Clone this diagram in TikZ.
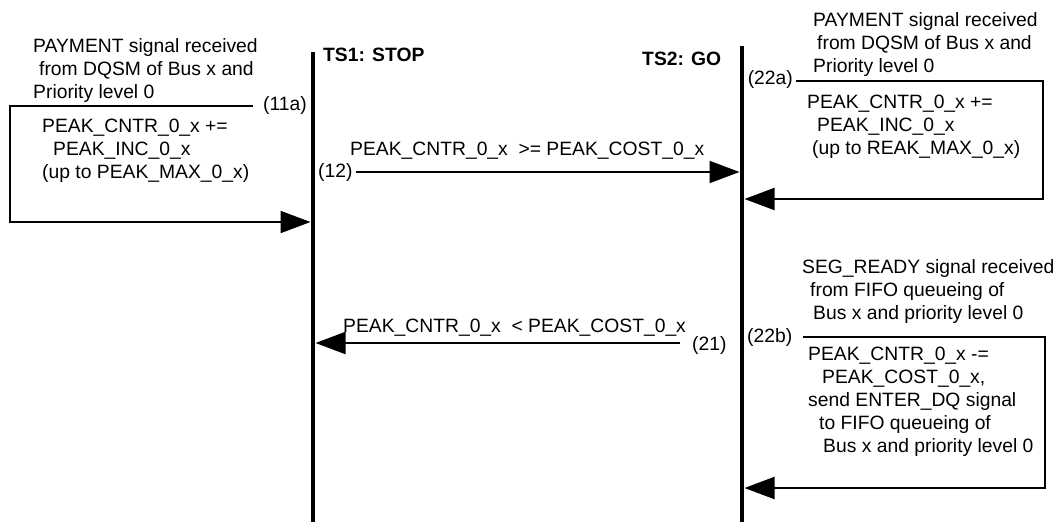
\documentclass[tikz,border=0pt]{standalone}
\usepackage{fontspec}
\setmainfont{Liberation Sans}
\usetikzlibrary{arrows.meta}

\tikzset{
  life/.style={line width=4.5pt},
  msg/.style={line width=2pt, -{Triangle[length=30pt,width=22pt]}},
  txt/.style={anchor=base west, inner sep=0pt, align=left, font=\fontsize{19.3}{23}\selectfont},
  tag/.style={anchor=west, inner sep=0pt, font=\fontsize{19.3}{23}\selectfont}
}

\begin{document}
\begin{tikzpicture}[x=1pt, y=-1pt]

\useasboundingbox (0,0) rectangle (1059,523);

% Parameters (lifeline positions)
\def\tsa{313}   % TS1
\def\tsb{742}   % TS2

% Lifelines
\coordinate (ts1top) at (\tsa,52);
\coordinate (ts1bot) at (\tsa,522);
\coordinate (ts2top) at (\tsb,46);
\coordinate (ts2bot) at (\tsb,522);
\draw[life] (ts1top) -- (ts1bot);
\draw[life] (ts2top) -- (ts2bot);

\node[txt, font=\fontsize{19.3}{23}\selectfont\bfseries] (ts1lbl) at (323,61) {TS1: STOP};
\node[txt, font=\fontsize{19.3}{23}\selectfont\bfseries] (ts2lbl) at (642,65) {TS2: GO};

% Self transition on TS1 (11a)
\node[txt] (trig11a) at (33,98)
  {PAYMENT signal received\\ \hspace*{6pt}from DQSM of Bus x and\\ Priority level 0};
\node[tag] (lbl11a) at (263,105) {(11a)};
\node[txt] (act11a) at (42,178)
  {PEAK\_CNTR\_0\_x +=\\ \hspace*{11pt}PEAK\_INC\_0\_x\\ (up to PEAK\_MAX\_0\_x)};
\coordinate (a11start) at (253,106);
\coordinate (a11corner) at (10,106);
\coordinate (a11end) at (\tsa-2.5,222);
\draw[msg] (a11start) -- (a11corner) |- (a11end);

% Transition (12): TS1 -> TS2
\node[tag] (lbl12) at (318,172) {(12)};
\node[txt] (cond12) at (350,155) {PEAK\_CNTR\_0\_x\ \ >= PEAK\_COST\_0\_x};
\coordinate (a12end) at (\tsb-2.5,172);
\draw[msg] (lbl12.east) ++(3,0) coordinate (a12start) -- (a12end);

% Self transition on TS2 (22a)
\node[txt] (trig22a) at (813,72)
  {PAYMENT signal received\\ \hspace*{4pt}from DQSM of Bus x and\\ Priority level 0};
\node[tag, anchor=east] (lbl22a) at (793,80) {(22a)};
\node[txt] (act22a) at (807,154)
  {PEAK\_CNTR\_0\_x +=\\ \hspace*{10pt}PEAK\_INC\_0\_x\\ \hspace*{5pt}(up to REAK\_MAX\_0\_x)};
\coordinate (a22astart) at (796,81);
\coordinate (a22acorner) at (1043,81);
\coordinate (a22aend) at (\tsb+2.5,199);
\draw[msg] (a22astart) -- (a22acorner) |- (a22aend);

% Transition (21): TS2 -> TS1
\node[tag] (lbl21) at (692,345) {(21)};
\node[txt] (cond21) at (343,332) {PEAK\_CNTR\_0\_x\ \ < PEAK\_COST\_0\_x};
\coordinate (a21start) at (680,343);
\coordinate (a21end) at (\tsa+2.5,343);
\draw[msg] (a21start) -- (a21end);

% Self transition on TS2 (22b)
\node[txt] (trig22b) at (802,319)
  {SEG\_READY signal received\\ \hspace*{8pt}from FIFO queueing of\\ \hspace*{11pt}Bus x and priority level 0};
\node[tag] (lbl22b) at (747,337) {(22b)};
\node[txt] (act22b) at (808,452)
  {PEAK\_CNTR\_0\_x -=\\ \hspace*{14pt}PEAK\_COST\_0\_x,\\ send ENTER\_DQ signal\\
   \hspace*{11pt}to FIFO queueing of\\ \hspace*{15pt}Bus x and priority level 0};
\coordinate (a22bstart) at (803,337);
\coordinate (a22bcorner) at (1045,337);
\coordinate (a22bend) at (\tsb+2.5,488);
\draw[msg] (a22bstart) -- (a22bcorner) |- (a22bend);

\end{tikzpicture}
\end{document}
